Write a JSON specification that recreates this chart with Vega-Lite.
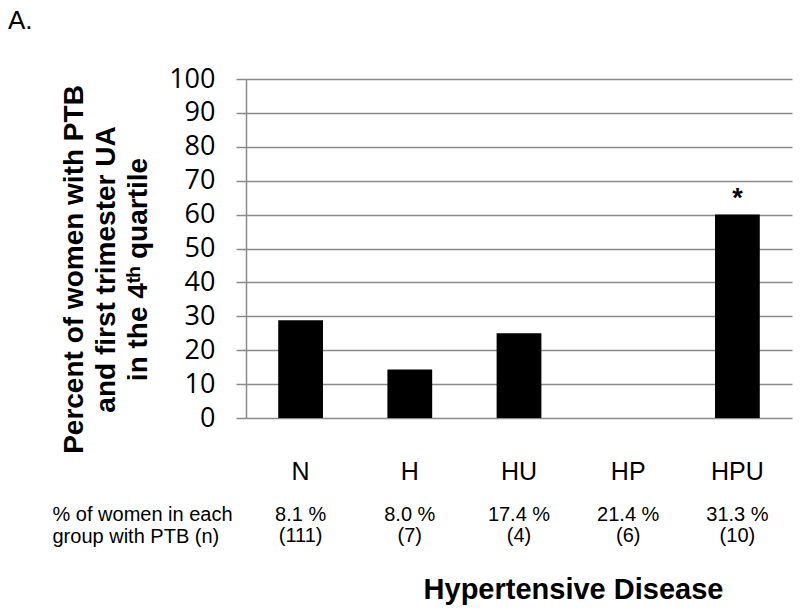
{
  "$schema": "https://vega.github.io/schema/vega-lite/v6.json",
  "padding": {"left": 8, "top": 8, "right": 5, "bottom": 5},
  "background": "white",
  "title": {"text": "A.", "anchor": "start", "font": "Liberation Sans", "fontSize": 26, "fontWeight": "normal", "color": "black", "dx": -44, "offset": 31},
  "datasets": {
    "bars": [
      {"group": "N", "value": 28.8, "star": ""},
      {"group": "H", "value": 14.3, "star": ""},
      {"group": "HU", "value": 25.0, "star": ""},
      {"group": "HP", "value": 0, "star": ""},
      {"group": "HPU", "value": 60.0, "star": "*"}
    ],
    "table": [
      {"group": "N", "row": "% of women in each", "text": "8.1 %"},
      {"group": "N", "row": "group with PTB (n)", "text": "(111)"},
      {"group": "H", "row": "% of women in each", "text": "8.0 %"},
      {"group": "H", "row": "group with PTB (n)", "text": "(7)"},
      {"group": "HU", "row": "% of women in each", "text": "17.4 %"},
      {"group": "HU", "row": "group with PTB (n)", "text": "(4)"},
      {"group": "HP", "row": "% of women in each", "text": "21.4 %"},
      {"group": "HP", "row": "group with PTB (n)", "text": "(6)"},
      {"group": "HPU", "row": "% of women in each", "text": "31.3 %"},
      {"group": "HPU", "row": "group with PTB (n)", "text": "(10)"}
    ]
  },
  "spacing": 20,
  "vconcat": [
    {
      "width": 546,
      "height": 339,
      "data": {"name": "bars"},
      "encoding": {
        "x": {
          "field": "group", "type": "nominal",
          "scale": {"domain": ["N", "H", "HU", "HP", "HPU"], "paddingInner": 0.59, "paddingOuter": 0.295},
          "axis": {"title": null, "labelAngle": 0, "ticks": false, "tickSize": 0, "domain": false, "labelPadding": 41, "labelFont": "Liberation Sans", "labelFontSize": 25, "labelColor": "black", "labelBaseline": "top"}
        },
        "y": {
          "field": "value", "type": "quantitative",
          "scale": {"domain": [0, 100], "nice": false},
          "axis": {
            "values": [0, 10, 20, 30, 40, 50, 60, 70, 80, 90, 100],
            "title": ["Percent of women with PTB", "and first trimester UA", "in the 4ᵗʰ quartile"],
            "titleFont": "Liberation Sans", "titleFontSize": 28, "titleFontWeight": "bold", "titleColor": "black",
            "titleLineHeight": 32, "titleX": -158, "titleY": 190, "titleBaseline": "bottom",
            "grid": true, "gridColor": "#8a8a8a", "gridWidth": 1.5,
            "domainColor": "#8a8a8a", "domainWidth": 1.5,
            "tickColor": "#8a8a8a", "tickWidth": 1.5, "tickSize": 10,
            "labelFont": "Open Sans", "labelFontSize": 27, "labelColor": "black", "labelPadding": 21
          }
        }
      },
      "layer": [
        {"mark": {"type": "bar", "color": "black"}},
        {
          "mark": {"type": "text", "font": "Liberation Sans", "fontSize": 27, "fontWeight": "bold", "color": "black", "baseline": "alphabetic", "dy": -8},
          "encoding": {"text": {"field": "star"}}
        }
      ]
    },
    {
      "width": 546,
      "height": 43,
      "data": {"name": "table"},
      "mark": {"type": "text", "font": "Liberation Sans", "fontSize": 20, "color": "black", "baseline": "middle"},
      "encoding": {
        "x": {
          "field": "group", "type": "nominal",
          "scale": {"domain": ["N", "H", "HU", "HP", "HPU"], "paddingInner": 0.59, "paddingOuter": 0.295},
          "axis": {"labels": false, "ticks": false, "domain": false, "grid": false, "title": "Hypertensive Disease", "titleFont": "Liberation Sans", "titleFontSize": 29, "titleFontWeight": "bold", "titleColor": "black", "titleX": 327, "titlePadding": 28, "titleBaseline": "top"}
        },
        "y": {
          "field": "row", "type": "nominal",
          "scale": {"domain": ["% of women in each", "group with PTB (n)"], "paddingInner": 0, "paddingOuter": 0},
          "axis": {"title": null, "ticks": false, "tickSize": 0, "domain": false, "grid": false, "labelAlign": "left", "labelBaseline": "middle", "labelPadding": 194, "labelLimit": 300, "labelFont": "Liberation Sans", "labelFontSize": 20, "labelColor": "black"}
        },
        "text": {"field": "text"}
      }
    }
  ],
  "config": {"view": {"stroke": null}}
}
